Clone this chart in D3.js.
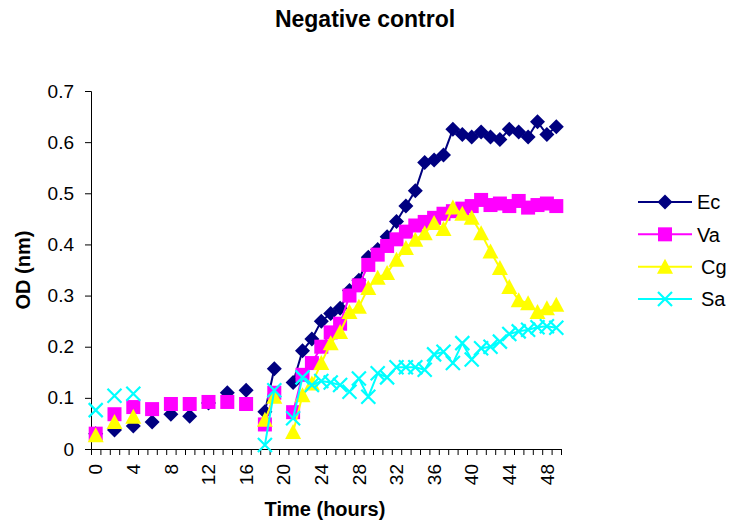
<!doctype html>
<html lang="en">
<head>
<meta charset="UTF-8">
<title>Negative control</title>
<style>
  body { margin: 0; background: #fff; }
  text { font-family: "Liberation Sans", Arial, sans-serif; }
</style>
</head>
<body>
<div class="container"></div>
<script src="https://d3js.org/d3.v7.min.js"></script>
<script>
  // categories: hours 0..49 (empty readings are null)
  const hours = [0, 1, 2, 3, 4, 5, 6, 7, 8, 9, 10, 11, 12, 13, 14, 15, 16, 17, 18, 19,
    20, 21, 22, 23, 24, 25, 26, 27, 28, 29, 30, 31, 32, 33, 34, 35, 36, 37, 38, 39,
    40, 41, 42, 43, 44, 45, 46, 47, 48, 49];
  const hourLabels = [0, 4, 8, 12, 16, 20, 24, 28, 32, 36, 40, 44, 48];
  const yTicks = [0, 0.1, 0.2, 0.3, 0.4, 0.5, 0.6, 0.7];

  const ec = [0.03, null, 0.037, null, 0.045, null, 0.053, null, 0.068, null,
    0.064, null, 0.09, null, 0.11, null, 0.115, null, 0.073, 0.157,
    null, 0.13, 0.192, 0.215, 0.25, 0.265, 0.275, 0.31, 0.33, 0.375,
    0.39, 0.415, 0.445, 0.475, 0.505, 0.56, 0.565, 0.575, 0.625, 0.615,
    0.61, 0.62, 0.61, 0.605, 0.625, 0.62, 0.61, 0.64, 0.615, 0.63];
  const va = [0.03, null, 0.068, null, 0.082, null, 0.078, null, 0.088, null,
    0.088, null, 0.092, null, 0.092, null, 0.088, null, 0.048, 0.11,
    null, 0.072, 0.145, 0.168, 0.2, 0.228, 0.245, 0.3, 0.32, 0.36,
    0.38, 0.397, 0.41, 0.425, 0.437, 0.444, 0.452, 0.46, 0.465, 0.47,
    0.475, 0.487, 0.477, 0.48, 0.475, 0.485, 0.472, 0.477, 0.48, 0.475];
  const cg = [0.027, null, 0.053, null, 0.063, null, null, null, null, null,
    null, null, null, null, null, null, null, null, 0.057, 0.102,
    null, 0.033, 0.105, 0.128, 0.168, 0.207, 0.229, 0.268, 0.278, 0.315,
    0.335, 0.344, 0.37, 0.393, 0.409, 0.422, 0.442, 0.43, 0.472, 0.46,
    0.452, 0.422, 0.386, 0.354, 0.317, 0.291, 0.285, 0.268, 0.275, 0.282];
  const sa = [0.076, null, 0.104, null, 0.108, null, null, null, null, null,
    null, null, null, null, null, null, null, null, 0.008, 0.115,
    null, 0.06, 0.14, 0.125, 0.133, 0.13, 0.125, 0.112, 0.138, 0.102,
    0.148, 0.14, 0.16, 0.16, 0.16, 0.155, 0.185, 0.19, 0.168, 0.207,
    0.175, 0.197, 0.2, 0.21, 0.225, 0.23, 0.233, 0.238, 0.24, 0.237];

  const seriesNames = ['Ec', 'Va', 'Cg', 'Sa'];
  const seriesValues = [ec, va, cg, sa];
  const colors = ['#000080', '#ff00ff', '#ffff00', '#00ffff'];
  const shapes = ['diamond', 'square', 'triangle', 'cross'];

  const SVG_W = 731, SVG_H = 523;
  const PLOT_L = 91, PLOT_R = 561, PLOT_T = 91, PLOT_B = 449;
  const FONT = '"Liberation Sans", Arial, sans-serif';

  const svg = d3.select('.container').append('svg')
    .attr('width', SVG_W).attr('height', SVG_H);

  const x = d3.scaleBand().domain(hours).range([PLOT_L, PLOT_R]);
  const xEdge = d3.scaleLinear().domain([0, hours.length]).range([PLOT_L, PLOT_R]);
  const y = d3.scaleLinear().domain([0, 0.7]).range([PLOT_B, PLOT_T]);

  // y axis
  const yAxis = d3.axisLeft(y).tickValues(yTicks).tickSize(6).tickPadding(11)
    .tickFormat(d => d === 0 ? '0' : d3.format('.1f')(d));
  const yg = svg.append('g').attr('transform', `translate(${PLOT_L},0)`).call(yAxis);
  yg.select('.domain').attr('stroke', '#000');
  yg.selectAll('text').attr('font-size', 19).attr('fill', '#000')
    .attr('font-family', FONT);

  // x tick marks on category boundaries
  const xTickAxis = d3.axisBottom(xEdge).tickValues(d3.range(0, hours.length + 1))
    .tickSize(6).tickFormat('');
  const xg = svg.append('g').attr('transform', `translate(0,${PLOT_B})`).call(xTickAxis);
  xg.select('.domain').attr('stroke', '#000');

  // x labels, rotated
  const xLabelAxis = d3.axisBottom(x).tickValues(hourLabels).tickSize(0);
  const xl = svg.append('g').attr('transform', `translate(0,${PLOT_B})`).call(xLabelAxis);
  xl.select('.domain').remove();
  xl.selectAll('text')
    .attr('font-size', 19).attr('fill', '#000')
    .attr('font-family', FONT)
    .attr('text-anchor', 'end')
    .attr('transform', 'rotate(-90)')
    .attr('x', -15).attr('y', 0).attr('dy', '0.35em');

  // titles
  svg.append('text').attr('x', 365).attr('y', 27).attr('text-anchor', 'middle')
    .attr('font-size', 23).attr('font-weight', 'bold').text('Negative control');
  svg.append('text').attr('x', 325).attr('y', 516).attr('text-anchor', 'middle')
    .attr('font-size', 20).attr('font-weight', 'bold').text('Time (hours)');
  svg.append('text').attr('transform', `translate(30,${(PLOT_T + PLOT_B) / 2}) rotate(-90)`)
    .attr('text-anchor', 'middle')
    .attr('font-size', 20).attr('font-weight', 'bold').text('OD (nm)');

  function marker(g, shape, color) {
    if (shape === 'diamond') {
      g.append('path').attr('d', 'M0,-7.5L7.5,0L0,7.5L-7.5,0Z').attr('fill', color);
    } else if (shape === 'square') {
      g.append('rect').attr('x', -7).attr('y', -7).attr('width', 14).attr('height', 14).attr('fill', color);
    } else if (shape === 'triangle') {
      g.append('path').attr('d', 'M0,-8L8,7L-8,7Z').attr('fill', color);
    } else {
      g.append('path').attr('d', 'M-7,-7L7,7M-7,7L7,-7')
        .attr('stroke', color).attr('stroke-width', 2.2).attr('fill', 'none');
    }
  }

  const line = d3.line()
    .defined(d => d.v != null)
    .x(d => x(d.h) + x.bandwidth() / 2)
    .y(d => y(d.v));

  seriesValues.forEach((vals, i) => {
    const pts = hours.map((h, j) => ({ h: h, v: vals[j] }));
    const g = svg.append('g');
    g.append('path').datum(pts).attr('d', line)
      .attr('fill', 'none').attr('stroke', colors[i]).attr('stroke-width', 2);
    g.selectAll('g.m').data(pts.filter(d => d.v != null)).enter()
      .append('g').attr('class', 'm')
      .attr('transform', d => `translate(${x(d.h) + x.bandwidth() / 2},${y(d.v)})`)
      .each(function () { marker(d3.select(this), shapes[i], colors[i]); });
  });

  // legend
  const legendY = d3.scalePoint().domain(seriesNames).range([202, 299]);
  seriesNames.forEach((name, i) => {
    const ly = legendY(name);
    const lg = svg.append('g');
    lg.append('line').attr('x1', 638).attr('x2', 692).attr('y1', ly).attr('y2', ly)
      .attr('stroke', colors[i]).attr('stroke-width', 2);
    const mg = lg.append('g').attr('transform', `translate(665,${ly})`);
    marker(mg, shapes[i], colors[i]);
    lg.append('text').attr('x', i < 2 ? 697 : 701).attr('y', ly).attr('dy', '0.36em')
      .attr('font-size', 20).text(name);
  });
</script>
</body>
</html>
